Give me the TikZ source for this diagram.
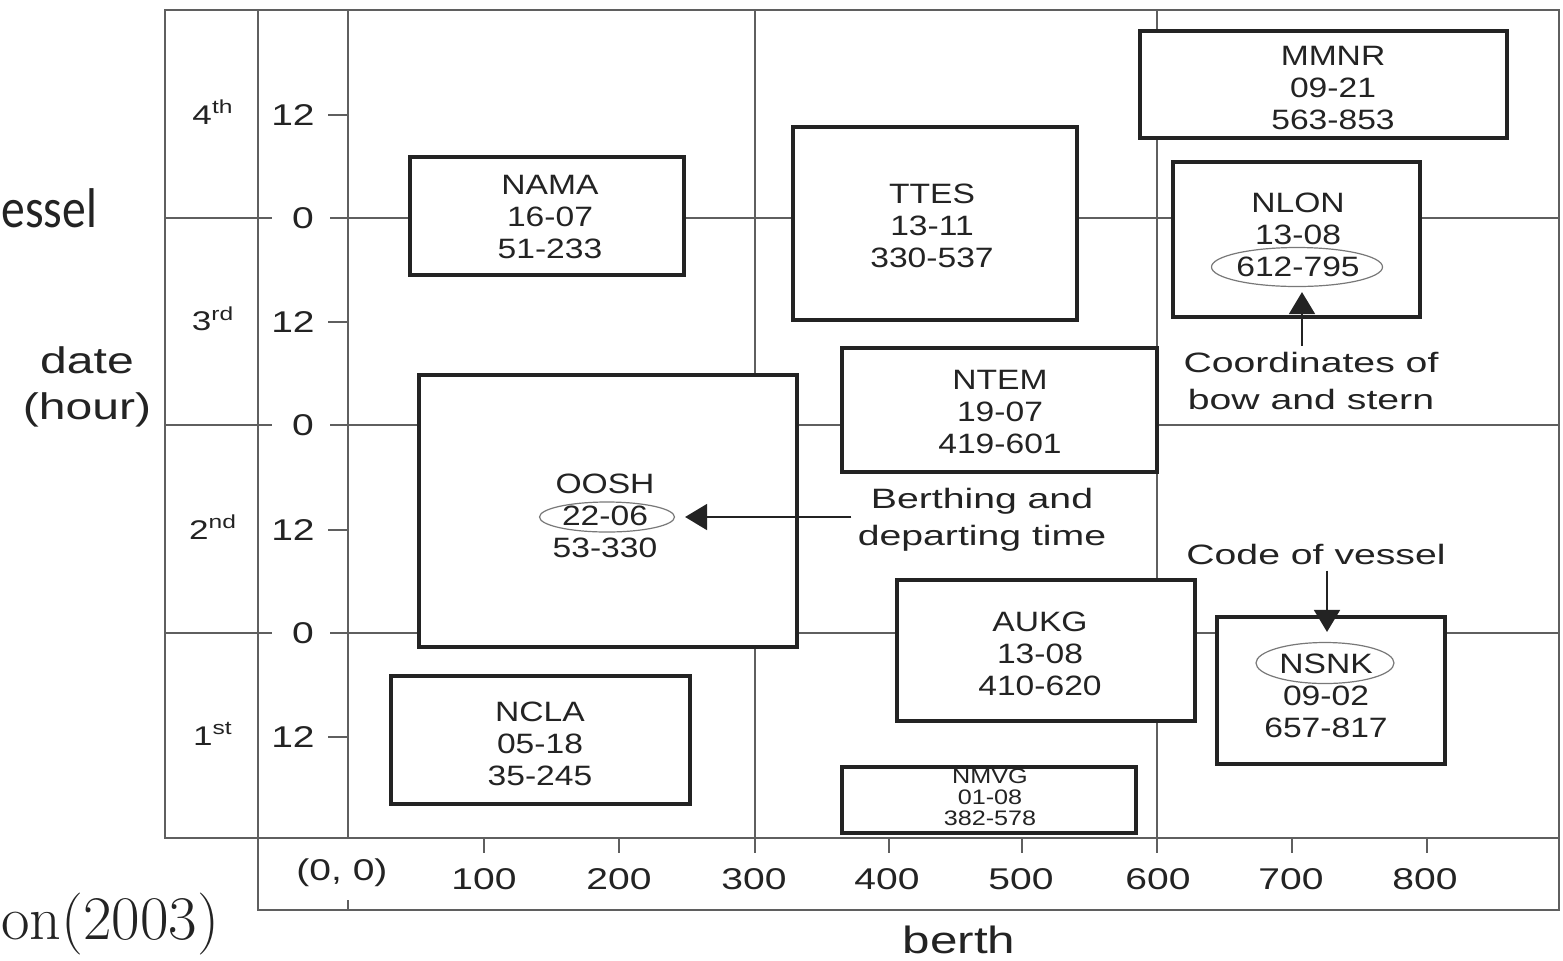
\documentclass[tikz,border=0pt]{standalone}
\usepackage{fontspec}
\setmainfont{Liberation Sans}
\newfontfamily\boxfont[FakeStretch=1.2]{Liberation Sans}
\newfontfamily\annfont[FakeStretch=1.4]{Liberation Sans}
\newfontfamily\axfont[FakeStretch=1.3]{Liberation Sans}
\newfontfamily\slidefont[FakeStretch=0.85]{Carlito}
\newfontfamily\lmfont{Latin Modern Roman}
\usetikzlibrary{arrows.meta,shapes.geometric}
\definecolor{ink}{RGB}{35,35,35}
\definecolor{gridc}{RGB}{95,95,95}
\definecolor{ellc}{RGB}{120,120,120}
\begin{document}
\begin{tikzpicture}[x=0.5pt,y=-0.5pt,
  grid/.style={draw=gridc,line width=1pt},
  vbox/.style={draw=ink,line width=1.6pt,fill=white,inner sep=0pt,rectangle},
  vtext/.style={align=center,text=ink,inner sep=0pt,font=\boxfont\fontsize{14}{16}\selectfont},
  smalltext/.style={align=center,text=ink,inner sep=0pt,font=\boxfont\fontsize{10.5}{10.5}\selectfont},
  ell/.style={draw=ellc,line width=0.6pt,ellipse,inner sep=0pt},
  ann/.style={align=center,text=ink,inner sep=3pt,font=\annfont\fontsize{14}{18.5}\selectfont},
  axlab/.style={text=ink,inner sep=0pt,font=\axfont\fontsize{15}{18}\selectfont},
  daylab/.style={text=ink,inner sep=0pt,font=\axfont\fontsize{13.5}{15}\selectfont},
  arr/.style={draw=ink,line width=0.9pt,-{Triangle[length=11pt,width=13pt]}}
]
\fill[white] (0,0) rectangle (1563,960);
\useasboundingbox (0,0) rectangle (1563,960);

% frame and grid
\draw[grid] (165,10) rectangle (1559,838);
\draw[grid] (258,10) -- (258,910) -- (1559,910) -- (1559,838);
\draw[grid] (348,10) -- (348,838);
\draw[grid] (348,900) -- (348,910);
\draw[grid] (755,10) -- (755,853);
\draw[grid] (1157,10) -- (1157,853);
\foreach \yy in {218,425,633} {
  \draw[grid] (165,\yy) -- (272,\yy);
  \draw[grid] (330,\yy) -- (1559,\yy);
}
\foreach \yy in {115,322,530,737} { \draw[grid] (328,\yy) -- (348,\yy); }
\foreach \xx in {484,619,889,1022,1292,1427} { \draw[grid] (\xx,838) -- (\xx,853); }

% axis labels
\node[axlab] (t12a) at (293,115) {12};
\node[axlab] (t0a)  at (303,218) {0};
\node[axlab] (t12b) at (293,322) {12};
\node[axlab] (t0b)  at (303,425) {0};
\node[axlab] (t12c) at (293,530) {12};
\node[axlab] (t0c)  at (303,633) {0};
\node[axlab] (t12d) at (293,737) {12};
\node[daylab] (d4) at (213,112) {4\textsuperscript{th}};
\node[daylab] (d3) at (213,319) {3\textsuperscript{rd}};
\node[daylab] (d2) at (213,527) {2\textsuperscript{nd}};
\node[daylab] (d1) at (213,734) {1\textsuperscript{st}};
\node[axlab] (x0) at (342,873) {(0, 0)};
\foreach \xx/\lab in {484/100,619/200,754/300,887/400,1021/500,1158/600,1291/700,1425/800} {
  \node[axlab] (x\lab) at (\xx,879) {\lab};
}
\node[text=ink,align=center,inner sep=0pt,font=\axfont\fontsize{18.5}{23}\selectfont] (ylab) at (87,387) {date\\(hour)};
\node[text=ink,inner sep=0pt,font=\axfont\fontsize{19}{22}\selectfont] (xlab) at (959,940) {berth};

% slide remnants
\node[anchor=base west,inner sep=0pt,text=ink,font=\slidefont\fontsize{28}{32}\selectfont] (essel) at (1,227) {essel};
\node[anchor=base west,inner sep=0pt,text=ink,font=\lmfont\fontsize{31}{34}\selectfont] (cite) at (1,939) {on(2003)};

% vessel boxes
\node[vbox,minimum width=137pt,minimum height=59pt] (nama) at (547,216) {};
\node[vtext] (namat) at (550,217) {NAMA\\16-07\\51-233};
\node[vbox,minimum width=142pt,minimum height=96.5pt] (ttes) at (935,223.5) {};
\node[vtext] (ttest) at (932,226) {TTES\\13-11\\330-537};
\node[vbox,minimum width=183.5pt,minimum height=53.5pt] (mmnr) at (1323.5,84.5) {};
\node[vtext] (mmnrt) at (1333,88) {MMNR\\09-21\\563-853};
\node[vbox,minimum width=123.5pt,minimum height=77.5pt] (nlon) at (1296.5,239.5) {};
\node[vtext] (nlont) at (1298,235) {NLON\\13-08\\612-795};
\node[vbox,minimum width=157.5pt,minimum height=62pt] (ntem) at (999.5,410) {};
\node[vtext] (ntemt) at (1000,412) {NTEM\\19-07\\419-601};
\node[vbox,minimum width=189pt,minimum height=136pt] (oosh) at (608,511) {};
\node[vtext] (oosht) at (605,516) {OOSH\\22-06\\53-330};
\node[vbox,minimum width=149pt,minimum height=70.5pt] (aukg) at (1046,650.5) {};
\node[vtext] (aukgt) at (1040,654) {AUKG\\13-08\\410-620};
\node[vbox,minimum width=114pt,minimum height=73.5pt] (nsnk) at (1331,690.5) {};
\node[vtext] (nsnkt) at (1326,696) {NSNK\\09-02\\657-817};
\node[vbox,minimum width=149.5pt,minimum height=64pt] (ncla) at (540.5,740) {};
\node[vtext] (nclat) at (540,744) {NCLA\\05-18\\35-245};
\node[vbox,minimum width=147pt,minimum height=33pt] (nmvg) at (989,800) {};
\node[smalltext] (nmvgt) at (990,797) {NMVG\\01-08\\382-578};

% highlight ellipses
\node[ell,minimum width=85.5pt,minimum height=19.5pt] (nlonell) at (1297,267) {};
\node[ell,minimum width=67.5pt,minimum height=15pt] (ooshell) at (607,517) {};
\node[ell,minimum width=69pt,minimum height=20.5pt] (nsnkell) at (1325,663) {};

% annotations
\node[ann] (coordtxt) at (1311,381) {Coordinates of\\bow and stern};
\node[ann] (berthtxt) at (982,519.5) {Berthing and\\departing time};
\node[ann] (codetxt) at (1316,554) {Code of vessel};

\coordinate (axA) at (1302,0);
\coordinate (axB) at (1327,0);
\draw[arr,shorten >=2.5pt] (axA |- coordtxt.north) -- (axA |- nlonell.south);
\draw[arr,shorten >=5pt] (berthtxt.west |- ooshell.east) -- (ooshell.east);
\draw[arr,shorten >=5pt] (axB |- codetxt.south) -- (axB |- nsnkell.north);
\end{tikzpicture}
\end{document}
